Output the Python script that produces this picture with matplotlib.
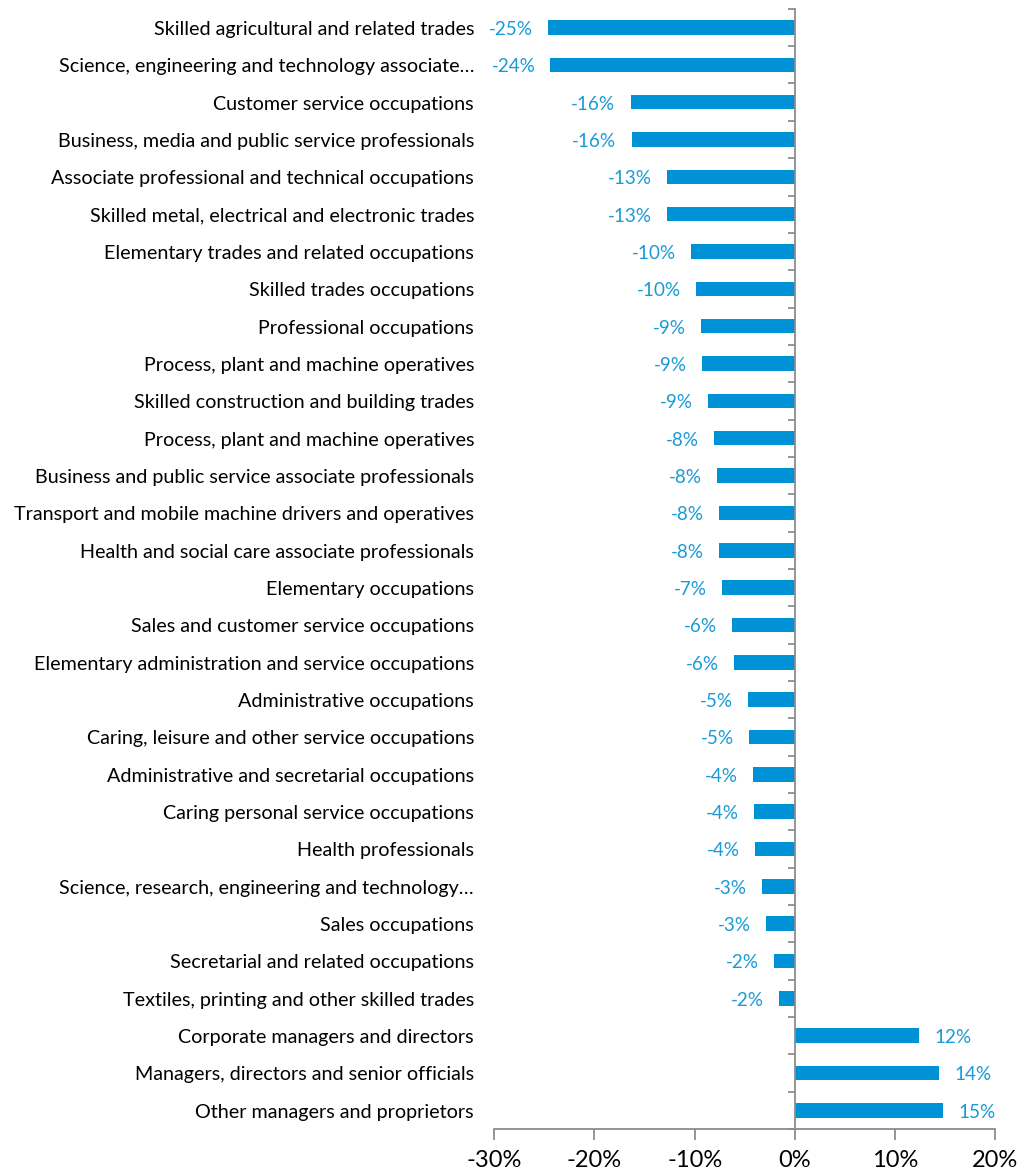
import matplotlib.pyplot as plt
from matplotlib.ticker import FuncFormatter
import matplotlib.transforms as mtransforms

plt.rcParams['font.family'] = ['Lato', 'DejaVu Sans']

occupations = [
    'Skilled agricultural and related trades',
    'Science, engineering and technology associate…',
    'Customer service occupations',
    'Business, media and public service professionals',
    'Associate professional and technical occupations',
    'Skilled metal, electrical and electronic trades',
    'Elementary trades and related occupations',
    'Skilled trades occupations',
    'Professional occupations',
    'Process, plant and machine operatives',
    'Skilled construction and building trades',
    'Process, plant and machine operatives',
    'Business and public service associate professionals',
    'Transport and mobile machine drivers and operatives',
    'Health and social care associate professionals',
    'Elementary occupations',
    'Sales and customer service occupations',
    'Elementary administration and service occupations',
    'Administrative occupations',
    'Caring, leisure and other service occupations',
    'Administrative and secretarial occupations',
    'Caring personal service occupations',
    'Health professionals',
    'Science, research, engineering and technology…',
    'Sales occupations',
    'Secretarial and related occupations',
    'Textiles, printing and other skilled trades',
    'Corporate managers and directors',
    'Managers, directors and senior officials',
    'Other managers and proprietors',
]

change = [
    -24.6, -24.4, -16.4, -16.3, -12.8, -12.8, -10.4, -9.9, -9.4, -9.3,
    -8.7, -8.1, -7.8, -7.6, -7.6, -7.3, -6.3, -6.1, -4.7, -4.6,
    -4.2, -4.1, -4.0, -3.3, -2.9, -2.1, -1.6, 12.4, 14.4, 14.8,
]

xticks = [-30, -20, -10, 0, 10, 20]

bar_color = '#0092d6'
label_color = '#1a9ad6'
axis_color = '#8c8c8c'

fig = plt.figure(figsize=(10.21, 11.73), dpi=100)
ax = fig.add_axes([0.484, 0.0375, 0.491, 0.955])

ypos = list(range(len(occupations)))
ax.barh(ypos, change, height=0.39, color=bar_color, zorder=2)

ax.set_xlim(-30, 20)
ax.set_ylim(len(occupations) - 0.5, -0.5)

# zero line carries the category tick marks
ax.spines['left'].set_position(('data', 0))
ax.spines['left'].set_color(axis_color)
ax.spines['left'].set_linewidth(1.3)
ax.spines['bottom'].set_color(axis_color)
ax.spines['bottom'].set_linewidth(1.3)
ax.spines['top'].set_visible(False)
ax.spines['right'].set_visible(False)

ax.set_yticks([i - 0.5 for i in range(len(occupations) + 1)])
ax.set_yticklabels([])
ax.tick_params(axis='y', direction='out', length=5, width=1.3, color=axis_color)

ax.set_xticks(xticks)
ax.xaxis.set_major_formatter(FuncFormatter(lambda v, p: f'{v:.0f}%'))
ax.tick_params(axis='x', direction='out', length=8, width=1.3, color=axis_color,
               labelsize=17, pad=7, labelcolor='black')

# category names sit to the left of the plot area
trans = mtransforms.blended_transform_factory(ax.transAxes, ax.transData)
for y, name in zip(ypos, occupations):
    ax.text(-0.04, y + 0.05, name, transform=trans, ha='right', va='center',
            fontsize=14.2, color='black')

# value labels at the end of each bar
for y, v in zip(ypos, change):
    txt = f'{v:.0f}%'
    if v < 0:
        ax.text(v - 1.5, y + 0.05, txt, ha='right', va='center', fontsize=13.6, color=label_color)
    else:
        ax.text(v + 1.5, y + 0.05, txt, ha='left', va='center', fontsize=13.6, color=label_color)

fig.savefig('out.png', dpi=100)
plt.close(fig)
